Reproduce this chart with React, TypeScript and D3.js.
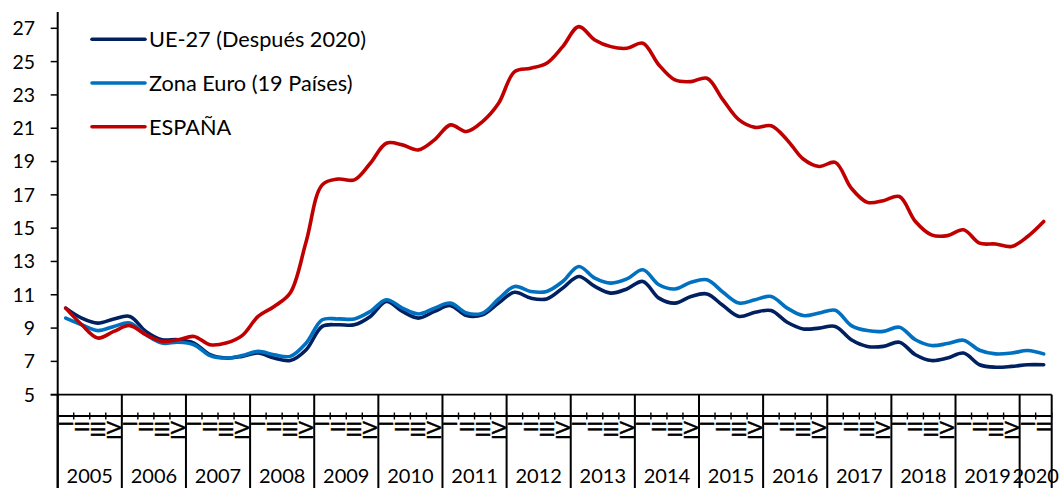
import React from "react";
import * as d3 from "d3";

document.body.style.margin = "0";

const years = ["2005","2006","2007","2008","2009","2010","2011","2012","2013","2014","2015","2016","2017","2018","2019","2020"];
const quarterNames = ["I", "II", "III", "IV"];
const yTicks = [5, 7, 9, 11, 13, 15, 17, 19, 21, 23, 25, 27];

const ue27 = [
  10.2, 9.6, 9.3, 9.55,
  9.7, 8.8, 8.3, 8.3,
  8.1, 7.4, 7.2, 7.3,
  7.5, 7.2, 7.05, 7.7,
  9.1, 9.2, 9.2, 9.7,
  10.6, 10.0, 9.6, 10.0,
  10.35, 9.75, 9.8, 10.5,
  11.15, 10.8, 10.75, 11.4,
  12.1, 11.5, 11.1, 11.35,
  11.8, 10.8, 10.5, 10.9,
  11.05, 10.35, 9.7, 9.95,
  10.05, 9.35, 8.95, 9.0,
  9.1, 8.3, 7.9, 7.9,
  8.15, 7.4, 7.05, 7.2,
  7.5, 6.8, 6.65, 6.7,
  6.8, 6.8,
];

const zonaEuro = [
  9.6, 9.2, 8.85, 9.1,
  9.3, 8.6, 8.1, 8.15,
  8.0, 7.35, 7.2, 7.35,
  7.6, 7.4, 7.3, 8.1,
  9.5, 9.55, 9.55, 10.0,
  10.7, 10.2, 9.85, 10.2,
  10.5, 9.9, 9.9, 10.75,
  11.5, 11.2, 11.2, 11.8,
  12.7, 12.0, 11.7, 11.95,
  12.5, 11.6, 11.35, 11.75,
  11.9, 11.15, 10.5, 10.7,
  10.9, 10.2, 9.75, 9.9,
  10.07, 9.15, 8.85, 8.8,
  9.05, 8.3, 7.95, 8.07,
  8.27, 7.67, 7.45, 7.5,
  7.65, 7.45,
];

const espana = [
  10.2, 9.2, 8.4, 8.8,
  9.15, 8.6, 8.2, 8.3,
  8.5, 8.0, 8.1, 8.55,
  9.7, 10.3, 11.1, 14.2,
  17.6, 17.95, 17.9, 18.9,
  20.1, 20.0, 19.7, 20.3,
  21.2, 20.8, 21.4, 22.5,
  24.4, 24.6, 24.9, 25.9,
  27.1, 26.3, 25.9, 25.8,
  26.1, 24.8, 23.9, 23.8,
  24.0, 22.7, 21.5, 21.05,
  21.15, 20.3, 19.15, 18.7,
  18.95, 17.4, 16.55, 16.65,
  16.9, 15.4, 14.6, 14.55,
  14.9, 14.1, 14.05, 13.9,
  14.5, 15.4,
];

const seriesNames = ["UE-27 (Después 2020)", "Zona Euro (19 Países)", "ESPAÑA"];
const seriesColors = ["#002060", "#0070C0", "#C00000"];
const seriesData = [ue27, zonaEuro, espana];

const W = 1063;
const H = 488;
const left = 57.7;
const right = 1051.7;
const top = 28.3;
const bottom = 394.7;
const FONT = "Lato, 'Open Sans', sans-serif";

export default function App() {
  const n = ue27.length;
  const x = d3.scaleLinear().domain([0, n]).range([left, right]);
  const y = d3.scaleLinear().domain([5, 27]).range([bottom, top]);
  const cx = (i: number) => x(i + 0.5);

  const line = d3
    .line<number>()
    .x((_, i) => cx(i))
    .y((d) => y(d))
    .curve(d3.curveCatmullRom.alpha(0.5));

  const yearBounds = d3.range(0, n + 1, 4).concat(n % 4 ? [n] : []);

  return (
    <svg width={W} height={H} style={{ display: "block", background: "#fff" }} fontFamily={FONT}>
      {/* Y axis */}
      <line x1={left} x2={left} y1={12} y2={H} stroke="#000" strokeWidth={2} />
      {yTicks.map((t) => (
        <g key={t}>
          <line x1={left - 7} x2={left} y1={y(t)} y2={y(t)} stroke="#000" strokeWidth={1.5} />
          <text x={35} y={y(t) + 6.9} textAnchor="end" fontSize={19.4} fill="#000">
            {t}
          </text>
        </g>
      ))}

      {/* X axis */}
      <line x1={left - 7} x2={right} y1={bottom} y2={bottom} stroke="#000" strokeWidth={1.8} />
      {yearBounds.map((b, k) => (
        <line key={"yb" + k} x1={x(b)} x2={x(b)} y1={bottom} y2={H} stroke="#000" strokeWidth={2} />
      ))}
      {/* quarter tick row */}
      <line x1={left} x2={right} y1={416} y2={416} stroke="#000" strokeWidth={1.8} />
      {d3.range(0, n + 1).map((i) => (
        <line key={"qt" + i} x1={x(i)} x2={x(i)} y1={412.5} y2={419.5} stroke="#000" strokeWidth={1.4} />
      ))}
      {d3.range(0, n).map((i) => (
        <text
          key={"ql" + i}
          transform={`translate(${cx(i) + 7},421) rotate(-90)`}
          textAnchor="end"
          fontSize={19.5}
          fill="#000"
          stroke="#000"
          strokeWidth={0.4}
        >
          {quarterNames[i % 4]}
        </text>
      ))}
      {years.map((yr, k) => {
        const a = k * 4;
        const b = Math.min(n, a + 4);
        return (
          <text key={yr} x={(x(a) + x(b)) / 2} y={483} textAnchor="middle" fontSize={20} fill="#000">
            {yr}
          </text>
        );
      })}

      {/* Series */}
      {seriesData.map((s, k) => (
        <path
          key={"s" + k}
          d={line(s) || ""}
          fill="none"
          stroke={seriesColors[k]}
          strokeWidth={3.6}
          strokeLinejoin="round"
          strokeLinecap="round"
        />
      ))}

      {/* Legend */}
      {seriesNames.map((name, k) => {
        const ly = 39.3 + k * 43.7;
        return (
          <g key={name}>
            <line x1={92} x2={145} y1={ly} y2={ly} stroke={seriesColors[k]} strokeWidth={3.6} strokeLinecap="round" />
            <text x={149} y={ly + 7.8} fontSize={21.7} fill="#000">
              {name}
            </text>
          </g>
        );
      })}
    </svg>
  );
}
